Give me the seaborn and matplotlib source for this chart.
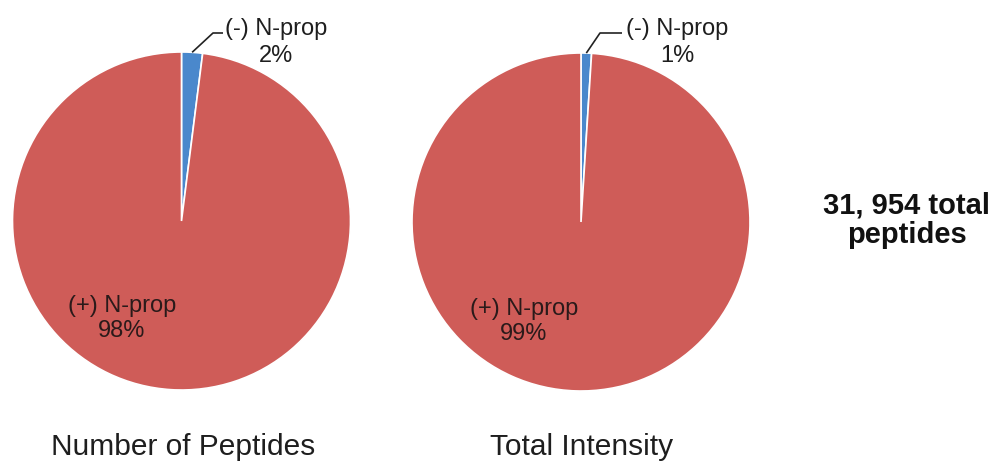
import matplotlib
matplotlib.use("Agg")
import matplotlib.pyplot as plt
import numpy as np
import seaborn as sns

# Share of peptides with and without N-terminal propionylation
categories = ["(-) N-prop", "(+) N-prop"]
peptide_share = [2, 98]     # % of identified peptides
intensity_share = [1, 99]   # % of summed intensity
panel_titles = ["Number of Peptides", "Total Intensity"]
total_note = ["31, 954 total", "peptides"]

sns.set_theme(style="white")
plt.rcParams["font.family"] = ["Liberation Sans", "DejaVu Sans"]

slice_colors = ["#4A88CC", "#CF5C58"]
text_color = "#1E1E1E"

W, H = 998, 466
fig = plt.figure(figsize=(W / 100, H / 100), dpi=100)
ax = fig.add_axes([0, 0, 1, 1])


def py(y):
    """Convert a top-down pixel row into the axes' y coordinate."""
    return H - y


panels = [
    dict(values=peptide_share, center=(181.5, 221), neg_label=(276, 35, 62),
         elbow=[(213, 33), (223, 33)], pos_label=(122, 312, 337),
         title_x=183),
    dict(values=intensity_share, center=(581, 222), neg_label=(677, 35, 62),
         elbow=[(600, 33), (622, 33)], pos_label=(524, 315, 340),
         title_x=582),
]

label_size = 17
radius = 169
for p in panels:
    cx, cy = p["center"]
    wedges, _ = ax.pie(
        p["values"], colors=slice_colors, startangle=90, counterclock=False,
        center=(cx, py(cy)), radius=radius, frame=True,
        wedgeprops=dict(edgecolor="white", linewidth=1.2),
    )
    neg, pos = p["values"]

    # leader from the middle of the small wedge's rim to its label
    w = wedges[0]
    mid = np.deg2rad((w.theta1 + w.theta2) / 2)
    x0 = cx + radius * np.cos(mid)
    y0 = py(cy) + radius * np.sin(mid)
    xs = [x0] + [e[0] for e in p["elbow"]]
    ys = [y0] + [py(e[1]) for e in p["elbow"]]
    ax.plot(xs, ys, color="#222222", lw=1.2, solid_capstyle="butt")

    lx, l1, l2 = p["neg_label"]
    ax.text(lx, py(l1), categories[0], ha="center", va="baseline",
            fontsize=label_size, color=text_color)
    ax.text(lx, py(l2), f"{neg}%", ha="center", va="baseline",
            fontsize=label_size, color=text_color)

    lx, l1, l2 = p["pos_label"]
    ax.text(lx, py(l1), categories[1], ha="center", va="baseline",
            fontsize=label_size, color="#2A1A1A")
    ax.text(lx, py(l2), f"{pos}%", ha="center", va="baseline",
            fontsize=label_size, color="#2A1A1A")

for p, title in zip(panels, panel_titles):
    ax.text(p["title_x"], py(455), title, ha="center", va="baseline",
            fontsize=21.5, color=text_color)

ax.text(907, py(213), total_note[0], ha="center", va="baseline",
        fontsize=21, fontweight="bold", color="#111111")
ax.text(907, py(243), total_note[1], ha="center", va="baseline",
        fontsize=21, fontweight="bold", color="#111111")

ax.set_xlim(0, W)
ax.set_ylim(0, H)
ax.set_aspect("equal")
ax.axis("off")

fig.savefig("out.png", dpi=100, facecolor="white")
